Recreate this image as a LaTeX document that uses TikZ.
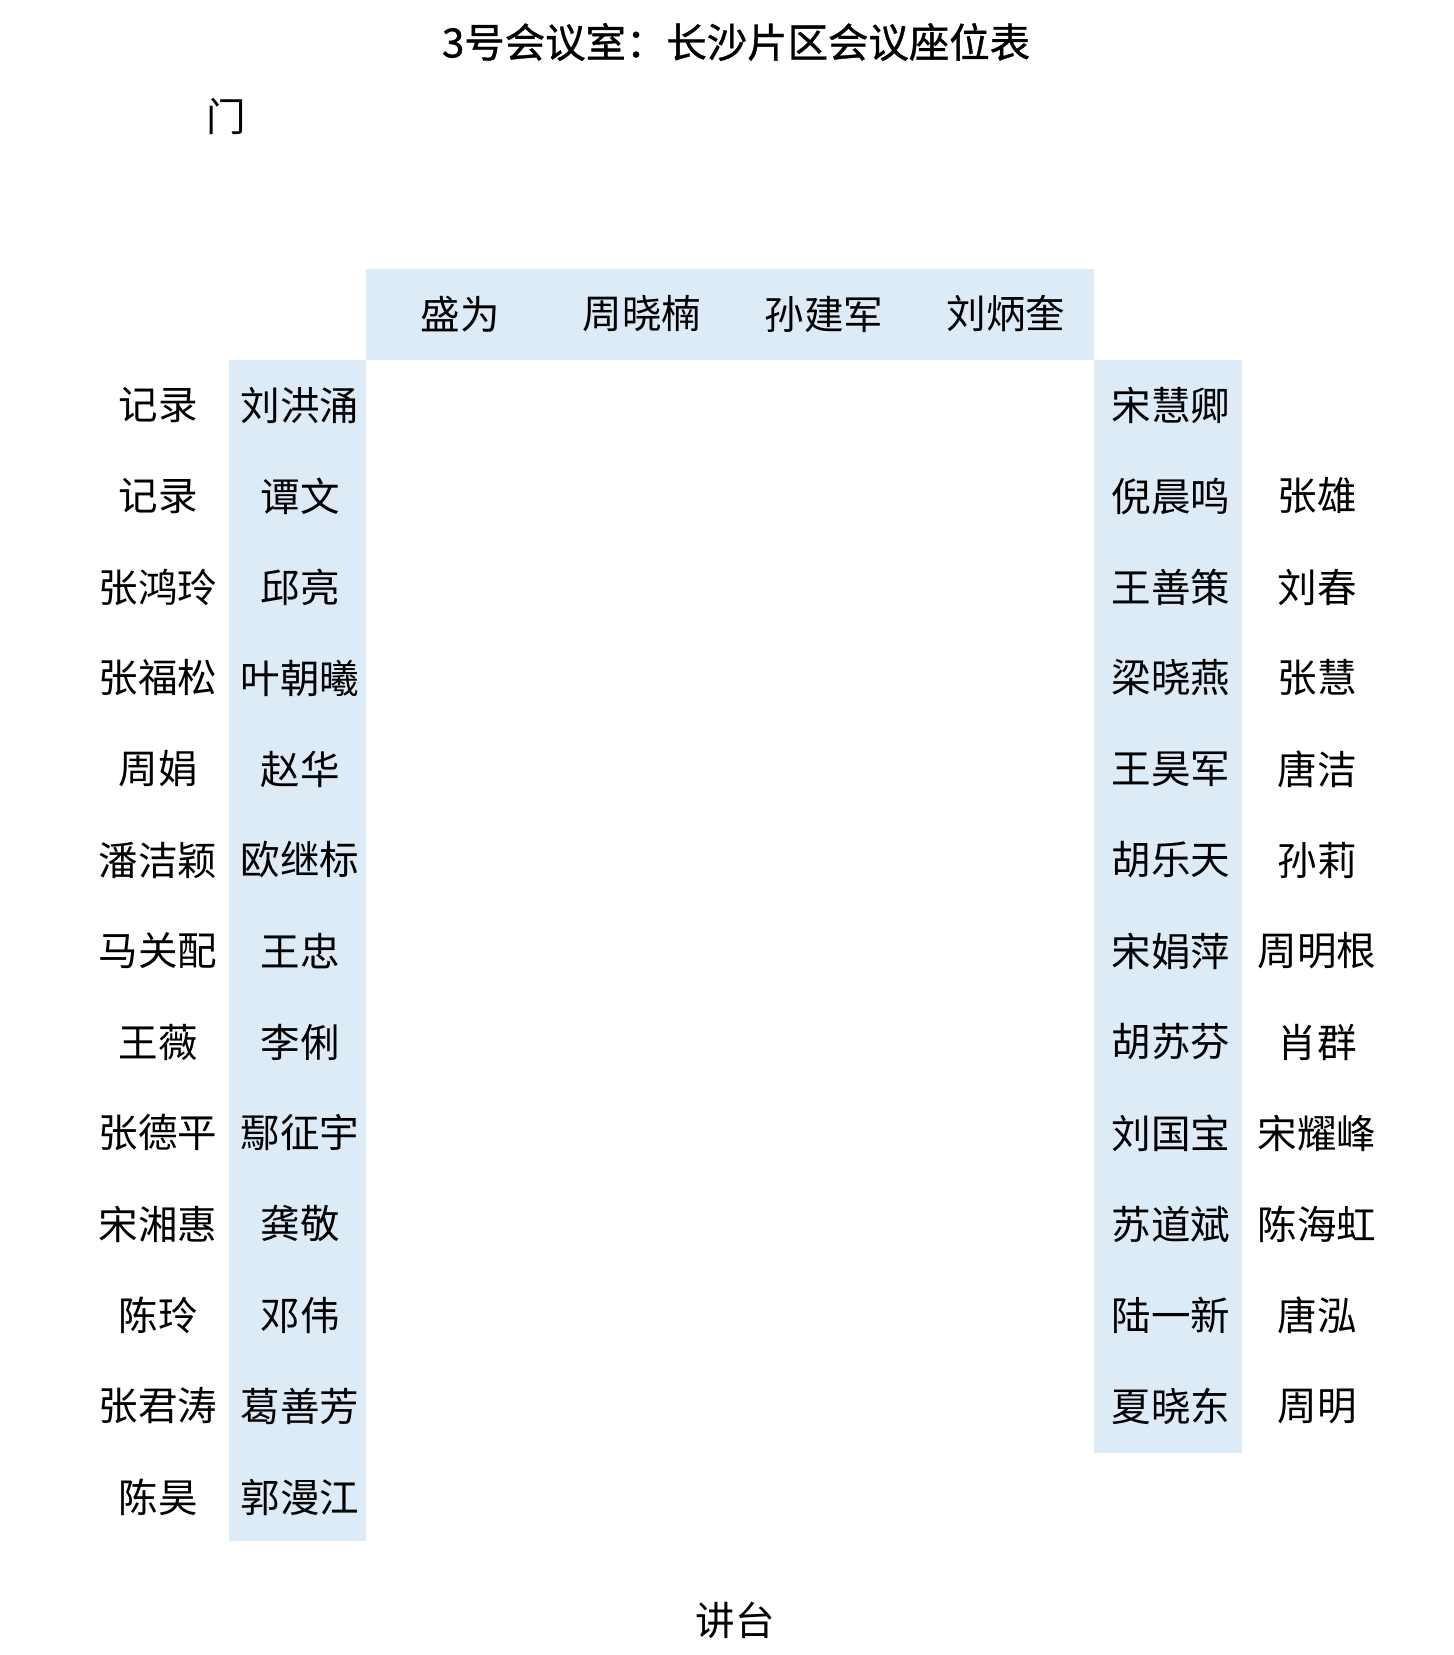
\documentclass[tikz,border=0pt]{standalone}
\usepackage{fontspec}
\setmainfont{Noto Sans CJK SC}
\newfontfamily\titlefont{Noto Sans CJK SC}[FakeBold=0.9]
\usetikzlibrary{positioning}
\definecolor{seatblue}{HTML}{DDEBF7}

\begin{document}
\begin{tikzpicture}[
    x=0.02cm, y=-0.02cm,
    every node/.style={font=\fontsize{22.5}{27}\selectfont, inner sep=0pt},
    heading/.style={font=\fontsize{23}{28}\selectfont\titlefont},
    seat/.style={fill=seatblue, draw=none},
]
\useasboundingbox (0,0) rectangle (1453,1655);
% seats along the table
\fill[seat] (366,269) rectangle (1094,360);
\fill[seat] (229,360) rectangle (366,1541);
\fill[seat] (1094,360) rectangle (1242,1453);

\node[heading] (title) at (736,42) {3号会议室：长沙片区会议座位表};
\node (door) at (226,116) {门};
\node (podium) at (735,1620) {讲台};

% head of the table
\foreach \nm [count=\i] in {盛为,周晓楠,孙建军,刘炳奎}
  \node (top\i) at ({460+182*(\i-1)},314) {\nm};

% left side, back row and table row
\foreach \nm [count=\i] in {记录,记录,张鸿玲,张福松,周娟,潘洁颖,马关配,王薇,张德平,宋湘惠,陈玲,张君涛,陈昊}
  \node (lout\i) at (158,{405+91*(\i-1)}) {\nm};
\foreach \nm [count=\i] in {刘洪涌,谭文,邱亮,叶朝曦,赵华,欧继标,王忠,李俐,鄢征宇,龚敬,邓伟,葛善芳,郭漫江}
  \node (lin\i) at (300,{405+91*(\i-1)}) {\nm};

% right side, table row and back row
\foreach \nm [count=\i] in {宋慧卿,倪晨鸣,王善策,梁晓燕,王昊军,胡乐天,宋娟萍,胡苏芬,刘国宝,苏道斌,陆一新,夏晓东}
  \node (rin\i) at (1171,{405+91*(\i-1)}) {\nm};
\foreach \nm [count=\i] in {张雄,刘春,张慧,唐洁,孙莉,周明根,肖群,宋耀峰,陈海虹,唐泓,周明}
  \node (rout\i) at (1317,{496+91*(\i-1)}) {\nm};
\end{tikzpicture}
\end{document}
